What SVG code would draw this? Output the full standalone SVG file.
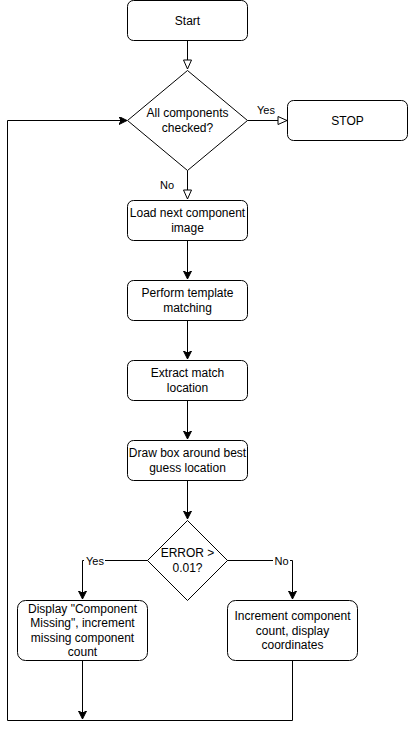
<svg xmlns="http://www.w3.org/2000/svg" width="408" height="729" viewBox="0 0 408 729">
<style>
.n{fill:#fff;stroke:#000;stroke-width:1}
.t{font-family:"Liberation Sans",Arial,sans-serif;font-size:12px;fill:#000;text-anchor:middle;dominant-baseline:central}
.l{font-family:"Liberation Sans",Arial,sans-serif;font-size:11px;fill:#000;text-anchor:middle;dominant-baseline:central}
.e{fill:none;stroke:#000;stroke-width:1}
</style>
<defs>
<marker id="open" markerWidth="12" markerHeight="12" viewBox="0 0 12 12" refX="10" refY="5" orient="auto" markerUnits="userSpaceOnUse">
<path d="M1,1 L10,5 L1,9 Z" fill="#fff" stroke="#000" stroke-width="1"/>
</marker>
<marker id="fill" markerWidth="10" markerHeight="10" viewBox="0 0 10 10" refX="8" refY="4" orient="auto" markerUnits="userSpaceOnUse">
<path d="M0,0 L8,4 L0,8 L2,4 Z" fill="#000" stroke="#000" stroke-width="1"/>
</marker>
</defs>
<rect width="408" height="729" fill="#fff"/>
<g id="connectors">
<path class="e" d="M187.5,40.5 V69" marker-end="url(#open)"/>
<path class="e" d="M247.5,120.5 H287" marker-end="url(#open)"/>
<path class="e" d="M187.5,170.5 V199" marker-end="url(#open)"/>
<path class="e" d="M187.5,240.5 V279" marker-end="url(#fill)"/>
<path class="e" d="M187.5,320.5 V359" marker-end="url(#fill)"/>
<path class="e" d="M187.5,400.5 V439" marker-end="url(#fill)"/>
<path class="e" d="M187.5,480.5 V519" marker-end="url(#fill)"/>
<path class="e" d="M148,560.5 H82.5 V599" marker-end="url(#fill)"/>
<path class="e" d="M227,560.5 H292.5 V599" marker-end="url(#fill)"/>
<path class="e" d="M82.5,660.5 V719" marker-end="url(#fill)"/>
<path class="e" d="M292.5,660.5 V720.5 H7.5 V120.5 H127" marker-end="url(#fill)"/>
<rect x="255" y="103" width="21" height="13" fill="#fff"/>
<text class="l" x="266" y="110">Yes</text>
<rect x="158" y="178" width="18" height="13" fill="#fff"/>
<text class="l" x="167" y="185">No</text>
<rect x="84" y="554" width="21" height="13" fill="#fff"/>
<text class="l" x="95" y="560.5">Yes</text>
<rect x="273" y="554" width="17" height="13" fill="#fff"/>
<text class="l" x="281.5" y="560.5">No</text>
</g>
<g id="start">
<rect class="n" x="127.5" y="0.5" width="120" height="40" rx="6"/>
<text class="t" x="187.5" y="20.5">Start</text>
</g>
<g id="all-checked">
<path class="n" d="M187.5,70.5 L247.5,120.5 L187.5,170.5 L127.5,120.5 Z"/>
<text class="t" x="187.5" y="112.5">All components</text>
<text class="t" x="187.5" y="127.5">checked?</text>
</g>
<g id="stop">
<rect class="n" x="287.5" y="100.5" width="120" height="40" rx="6"/>
<text class="t" x="347.5" y="120.5">STOP</text>
</g>
<g id="load">
<rect class="n" x="127.5" y="200.5" width="120" height="40" rx="6"/>
<text class="t" x="187.5" y="213">Load next component</text>
<text class="t" x="187.5" y="228">image</text>
</g>
<g id="perform">
<rect class="n" x="127.5" y="280.5" width="120" height="40" rx="6"/>
<text class="t" x="187.5" y="293">Perform template</text>
<text class="t" x="187.5" y="308">matching</text>
</g>
<g id="extract">
<rect class="n" x="127.5" y="360.5" width="120" height="40" rx="6"/>
<text class="t" x="187.5" y="373">Extract match</text>
<text class="t" x="187.5" y="388">location</text>
</g>
<g id="draw">
<rect class="n" x="127.5" y="440.5" width="120" height="40" rx="6"/>
<text class="t" x="187.5" y="453">Draw box around best</text>
<text class="t" x="187.5" y="468">guess location</text>
</g>
<g id="error">
<path class="n" d="M187.5,520.5 L227.5,560.5 L187.5,600.5 L147.5,560.5 Z"/>
<text class="t" x="187.5" y="553">ERROR &gt;</text>
<text class="t" x="187.5" y="568">0.01?</text>
</g>
<g id="missing">
<rect class="n" x="17.5" y="600.5" width="130" height="60" rx="8"/>
<text class="t" x="82.5" y="608.5">Display "Component</text>
<text class="t" x="82.5" y="623">Missing", increment</text>
<text class="t" x="82.5" y="637.5">missing component</text>
<text class="t" x="82.5" y="652">count</text>
</g>
<g id="increment">
<rect class="n" x="227.5" y="600.5" width="130" height="60" rx="8"/>
<text class="t" x="292.5" y="616">Increment component</text>
<text class="t" x="292.5" y="630.5">count, display</text>
<text class="t" x="292.5" y="645">coordinates</text>
</g>
</svg>
